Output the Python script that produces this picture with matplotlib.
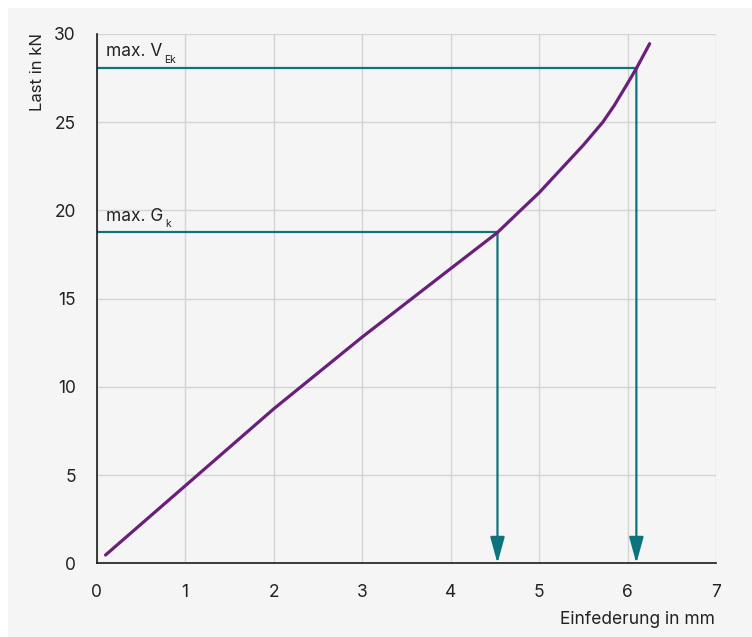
import matplotlib
matplotlib.use("Agg")
import matplotlib.pyplot as plt
from matplotlib.patches import Rectangle

plt.rcParams.update({
    "font.family": ["Inter", "DejaVu Sans"],
    "mathtext.fontset": "custom",
    "mathtext.rm": "Inter",
})

# Kennlinie (Einfederung in mm, Last in kN)
defl = [0.10, 1.0, 2.0, 3.0, 4.0, 4.53, 4.79, 5.0, 5.25, 5.5, 5.72, 5.85, 6.0, 6.1, 6.25]
load = [0.47, 4.39, 8.75, 12.82, 16.7, 18.75, 20.0, 21.0, 22.35, 23.7, 25.0, 25.95, 27.2, 28.05, 29.45]

# markierte Lastpunkte
marks = ["max. G", "max. V"]
mark_sub = ["k", "Ek"]
mark_load = [18.75, 28.05]
mark_defl = [4.53, 6.10]

xticks = [0, 1, 2, 3, 4, 5, 6, 7]
yticks = [0, 5, 10, 15, 20, 25, 30]

PURPLE = "#6a1f7a"
TEAL = "#0d737d"
BG = "#f5f5f5"

fig = plt.figure(figsize=(7.52, 6.37), dpi=100)
fig.patch.set_facecolor("white")
fig.patches.append(Rectangle((8 / 752, 0), 1, 1 - 8 / 637, transform=fig.transFigure,
                             facecolor=BG, edgecolor="none", zorder=-10))

ax = fig.add_axes([96.7 / 752, 1 - 563.3 / 637, (716 - 96.7) / 752, (563.3 - 34) / 637])
ax.set_facecolor(BG)
ax.set_xlim(0, 7)
ax.set_ylim(0, 30)
ax.set_xticks(xticks)
ax.set_yticks(yticks)
ax.grid(True, color="#d4d4d4", linewidth=1.0)
ax.set_axisbelow(True)
for s in ["top", "right"]:
    ax.spines[s].set_visible(False)
for s in ["left", "bottom"]:
    ax.spines[s].set_color("#1a1a1a")
    ax.spines[s].set_linewidth(1.2)
ax.tick_params(length=0, labelsize=12.5, colors="#222222")
ax.tick_params(axis="y", pad=15)
ax.tick_params(axis="x", pad=15)

for lbl, sub, yv, xv in zip(marks, mark_sub, mark_load, mark_defl):
    ax.plot([0, xv], [yv, yv], color=TEAL, linewidth=1.6, solid_capstyle="butt", zorder=2)
    ax.annotate("", xy=(xv, 0), xytext=(xv, yv),
                arrowprops=dict(arrowstyle="-|>,head_length=0.8,head_width=0.22",
                                mutation_scale=20, color=TEAL, linewidth=1.6,
                                shrinkA=0, shrinkB=0), zorder=2)
    t = ax.text(0.11, yv + 0.45, lbl, fontsize=12.5, color="#222222",
                ha="left", va="bottom")
    # kleiner, tiefgestellter Index direkt hinter dem Text
    ax.annotate(sub, xy=(1, 0), xycoords=t, xytext=(1, -3), textcoords="offset points",
                fontsize=7.5, color="#222222", ha="left", va="bottom")

ax.plot(defl, load, color=PURPLE, linewidth=2.3, solid_capstyle="round",
        solid_joinstyle="round", zorder=3)

fig.text(37 / 752, 1 - 33 / 637, "Last in kN", rotation=90, ha="center", va="top",
         fontsize=12, color="#222222")
fig.text(715 / 752, 1 - 620 / 637, "Einfederung in mm", ha="right", va="center",
         fontsize=12.5, color="#222222")

fig.savefig("out.png", dpi=100, facecolor=fig.get_facecolor())
